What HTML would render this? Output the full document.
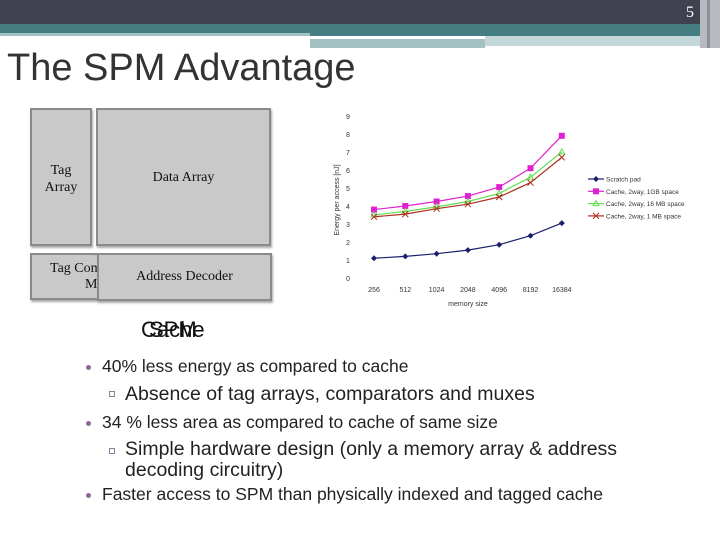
<!DOCTYPE html>
<html><head><meta charset="utf-8"><style>
body{margin:0;width:720px;height:540px;overflow:hidden;background:#fff;position:relative;font-family:"Liberation Sans",sans-serif}
.abs{position:absolute}
.box{position:absolute;background:#c9c9c9;border:2px solid #8a8a8a;box-shadow:1px 2px 2px #aaa;box-sizing:border-box;font-family:"Liberation Serif",serif;font-size:14px;color:#111;text-align:center}
.b{position:absolute;font-size:17.5px;color:#222;white-space:nowrap}
.dot{position:absolute;width:5px;height:5px;border-radius:50%;background:#8a6a95}
.sq{position:absolute;width:4px;height:4px;border:1px solid #7a8a9a}
</style></head><body>
<div class="abs" style="left:0;top:0;width:720px;height:24px;background:#41424f"></div>
<div class="abs" style="left:0;top:24px;width:700px;height:9px;background:#457e82"></div>
<div class="abs" style="left:310px;top:33px;width:390px;height:3px;background:#457e82"></div>
<div class="abs" style="left:0;top:33px;width:310px;height:3px;background:#a4c1c2"></div>
<div class="abs" style="left:310px;top:39px;width:175px;height:9px;background:#a4c1c2"></div>
<div class="abs" style="left:485px;top:36px;width:215px;height:10px;background:#c4d8d9"></div>
<div class="abs" style="left:700px;top:0;width:20px;height:48px;background:#b8bac0"></div>
<div class="abs" style="left:707px;top:0;width:3px;height:48px;background:#8c8e96"></div>
<div class="abs" style="left:686px;top:4px;color:#fff;font-family:'Liberation Serif',serif;font-size:16px">5</div>
<div class="abs" style="left:7px;top:47px;font-size:38px;color:#333">The SPM Advantage</div>

<div class="box" style="left:30px;top:108px;width:62px;height:138px;padding-top:52px;line-height:17px">Tag<br>Array</div>
<div class="box" style="left:96px;top:108px;width:175px;height:138px;padding-top:60px">Data Array</div>
<div class="box" style="left:30px;top:253px;width:70px;height:47px;text-align:left;padding:6px 0 0 18px;line-height:16px;overflow:hidden;white-space:nowrap">Tag Comparator<br>&nbsp;&nbsp;&nbsp;&nbsp;&nbsp;&nbsp;&nbsp;&nbsp;&nbsp;&nbsp;Mux</div>
<div class="box" style="left:97px;top:253px;width:175px;height:48px;padding-top:14px">Address Decoder</div>
<div class="abs" style="left:141px;top:317px;font-size:22px;color:#111">Cache</div>
<div class="abs" style="left:149px;top:317px;font-size:22px;color:#111">SPM</div>

<svg class="abs" style="left:0;top:0" width="720" height="540" id="chart"></svg>

<div class="dot" style="left:86px;top:365px"></div>
<div class="b" style="left:102px;top:356px">40% less energy as compared to cache</div>
<div class="sq" style="left:109px;top:391px"></div>
<div class="b" style="left:125px;top:383px;font-size:19.5px">Absence of tag arrays, comparators and muxes</div>
<div class="dot" style="left:86px;top:421px"></div>
<div class="b" style="left:102px;top:412px">34 % less area as compared to cache of same size</div>
<div class="sq" style="left:109px;top:448px"></div>
<div class="b" style="left:125px;top:439px;font-size:19.5px;line-height:21px">Simple hardware design (only a memory array &amp; address<br>decoding circuitry)</div>
<div class="dot" style="left:86px;top:493px"></div>
<div class="b" style="left:102px;top:484px">Faster access to SPM than physically indexed and tagged cache</div>

<script>
const categories=["256","512","1024","2048","4096","8192","16384"];
const yTicks=[0,1,2,3,4,5,6,7,8,9];
const scratchPad=[1.1,1.2,1.35,1.55,1.85,2.35,3.05];
const cache1GB=[3.8,4.0,4.25,4.55,5.05,6.1,7.9];
const cache16MB=[3.5,3.7,3.95,4.25,4.7,5.6,7.0];
const cache1MB=[3.4,3.55,3.85,4.1,4.5,5.3,6.7];
const seriesNames=["Scratch pad","Cache, 2way, 1GB space","Cache, 2way, 16 MB space","Cache, 2way, 1 MB space"];

const svg=document.getElementById('chart');
const NS='http://www.w3.org/2000/svg';
function x(i){return 374+i*31.3;}
function y(v){return 278-v*18;}
function mk(tag,attrs,parent){const e=document.createElementNS(NS,tag);for(const k in attrs)e.setAttribute(k,attrs[k]);(parent||svg).appendChild(e);return e;}
yTicks.forEach(t=>{const e=mk('text',{x:348,y:y(t)+3,'text-anchor':'middle','font-size':7,fill:'#333','font-family':'Liberation Sans'});e.textContent=t;

});
categories.forEach((c,i)=>{const e=mk('text',{x:x(i),y:292,'text-anchor':'middle','font-size':7,fill:'#333','font-family':'Liberation Sans'});e.textContent=c;

});
let t=mk('text',{x:468,y:306,'text-anchor':'middle','font-size':7,fill:'#333','font-family':'Liberation Sans'});t.textContent='memory size';


t=mk('text',{x:0,y:0,transform:'translate(339,200) rotate(-90)','text-anchor':'middle','font-size':7,fill:'#333','font-family':'Liberation Sans'});t.textContent='Energy per access [nJ]';


const series=[[scratchPad,'#1a1f6e','diamond'],[cache1GB,'#e020d0','square'],[cache16MB,'#66dd55','tri'],[cache1MB,'#b03020','x']];
function marker(px,py,type,col){
  if(type==='diamond')return mk('path',{d:`M${px} ${py-3}L${px+3} ${py}L${px} ${py+3}L${px-3} ${py}Z`,fill:col});
  if(type==='square')return mk('rect',{x:px-3,y:py-3,width:6,height:6,fill:col});
  if(type==='tri')return mk('path',{d:`M${px} ${py-3}L${px+3} ${py+2}L${px-3} ${py+2}Z`,fill:'none',stroke:col,'stroke-width':1});
  return mk('path',{d:`M${px-3} ${py-3}L${px+3} ${py+3}M${px+3} ${py-3}L${px-3} ${py+3}`,stroke:col,'stroke-width':1});
}
series.forEach((s,si)=>{
  const [vals,col,type]=s;
  const pl=mk('polyline',{points:vals.map((v,i)=>x(i)+','+y(v)).join(' '),fill:'none',stroke:col,'stroke-width':1.2});
  
  
  vals.forEach((v,i)=>{const m=marker(x(i),y(v),type,col);
    
    });
  const ly=179+si*12.3;
  const ll=mk('line',{x1:588,x2:604,y1:ly,y2:ly,stroke:col,'stroke-width':1.2});
  
  
  const lm=marker(596,ly,type,col);
  
  
  const lt=mk('text',{x:606,y:ly+2.5,'font-size':6.5,fill:'#333','font-family':'Liberation Sans'});lt.textContent=seriesNames[si];
  
  
});
</script>
</body></html>
